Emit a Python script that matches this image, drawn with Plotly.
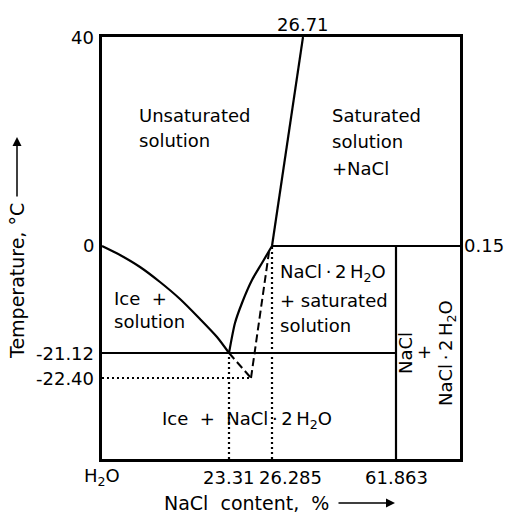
import plotly.graph_objects as go

# ---- schematic diagram coordinates (diagram is not to scale) ----
X_TICK_LABELS = ["H<sub>2</sub>O", "23.31", "26.285", "61.863"]
X_TICK_POS = [0, 127, 170, 294]
X_TICK_SHIFT = [0, 0, 18, 0]
X_MAX = 358

Y_TICK_LABELS = ["40", "0", "-21.12", "-22.40"]
Y_TICK_POS = [422, 213, 106, 81]
Y_MAX = 422

RIGHT_LABEL = "0.15"
RIGHT_LABEL_POS = 213
TOP_LABEL = "26.71"
TOP_LABEL_POS = 201

# liquidus of ice (0 °C -> eutectic)
ICE_X = [0, 18, 38, 58, 78, 98, 115, 127]
ICE_Y = [213, 204, 192, 177, 160, 140, 122, 106]
# solubility of NaCl·2H2O (eutectic -> peritectic)
HYD_X = [127, 133, 140, 150, 160, 170]
HYD_Y = [106, 136, 156, 179, 196, 213]
# solubility of NaCl (peritectic -> 26.71 at 40 °C)
NACL_X = [170, 201]
NACL_Y = [213, 422]
# metastable extensions (dashed)
META1_X = [127, 149]
META1_Y = [106, 81]
META2_X = [149, 167]
META2_Y = [81, 207]

FONT = "DejaVu Sans"
FS = 18
HYDRATE = "NaCl\u2009·\u20092\u2009H<sub>2</sub>O"

fig = go.Figure()

def line(x, y, dash="solid", width=2.2, shape="linear"):
    fig.add_trace(go.Scatter(x=x, y=y, mode="lines",
                             line=dict(color="black", width=width, dash=dash, shape=shape,
                                       smoothing=0.7),
                             hoverinfo="skip", showlegend=False, cliponaxis=False))

# solid phase boundaries
line(ICE_X, ICE_Y, shape="spline")
line(HYD_X, HYD_Y, shape="spline")
line(NACL_X, NACL_Y)
line([X_TICK_POS[2], X_MAX], [RIGHT_LABEL_POS, RIGHT_LABEL_POS])
line([0, X_TICK_POS[3]], [Y_TICK_POS[2], Y_TICK_POS[2]])
line([X_TICK_POS[3], X_TICK_POS[3]], [0, RIGHT_LABEL_POS])
# dashed metastable lines
line(META1_X, META1_Y, dash="8px,4px", width=2)
line(META2_X, META2_Y, dash="8px,4px", width=2)
# dotted guide lines
line([0, META1_X[1]], [Y_TICK_POS[3], Y_TICK_POS[3]], dash="2px,3px", width=2.2)
line([X_TICK_POS[1], X_TICK_POS[1]], [0, Y_TICK_POS[2]], dash="2px,3px", width=2.2)
line([X_TICK_POS[2], X_TICK_POS[2]], [0, Y_TICK_POS[1]], dash="2px,3px", width=2.2)

ann = []
def text(x, y, t, xanchor="center", yanchor="middle", angle=0, xshift=0, size=FS):
    # positions given in diagram units, placed in paper space so they are never hidden
    ann.append(dict(x=x / X_MAX, y=y / Y_MAX, xref="paper", yref="paper", text=t,
                    showarrow=False, xanchor=xanchor, yanchor=yanchor,
                    textangle=angle, xshift=xshift,
                    font=dict(family=FONT, size=size, color="black")))

def arrow(x0, y0, x1, y1):
    # one diagram unit == one pixel
    ann.append(dict(x=x1 / X_MAX, y=y1 / Y_MAX, xref="paper", yref="paper",
                    ax=x0 - x1, ay=y1 - y0, axref="pixel", ayref="pixel", text="",
                    showarrow=True, arrowhead=2, arrowsize=1.2, arrowwidth=1.5,
                    arrowcolor="black"))

# tick labels
for lab, pos, sh in zip(X_TICK_LABELS, X_TICK_POS, X_TICK_SHIFT):
    text(pos, -18, lab, xshift=sh)
for lab, pos in zip(Y_TICK_LABELS, Y_TICK_POS):
    text(-6, pos, lab, xanchor="right")
text(X_MAX + 2, RIGHT_LABEL_POS, RIGHT_LABEL, xanchor="left")
text(TOP_LABEL_POS, 434, TOP_LABEL)

# region labels
text(35, 344, "Unsaturated", xanchor="left")
text(35, 319, "solution", xanchor="left")
text(228, 344, "Saturated", xanchor="left")
text(228, 318, "solution", xanchor="left")
text(228, 291, "+NaCl", xanchor="left")
text(10, 161, "Ice  +", xanchor="left")
text(10, 137, "solution", xanchor="left")
text(176, 186, HYDRATE, xanchor="left")
text(176, 159, "+ saturated", xanchor="left")
text(176, 134, "solution", xanchor="left")
text(145, 39, "Ice  +  " + HYDRATE)
text(303, 106, "NaCl", angle=-90)
text(321, 106, "+", angle=-90)
text(345, 106, HYDRATE, angle=-90)

# axis titles
text(-85, 178, "Temperature, °C", angle=-90, size=19)
text(144, -44, "NaCl  content,  %", size=19)
arrow(235, -44, 293, -44)
arrow(-85, 261, -85, 322)

fig.update_layout(
    width=505, height=515,
    margin=dict(l=102, r=45, t=37, b=56),
    paper_bgcolor="white", plot_bgcolor="white",
    annotations=ann,
    xaxis=dict(range=[0, X_MAX], showgrid=False, zeroline=False, showticklabels=False,
               ticks="", showline=True, mirror=True, linecolor="black", linewidth=2.5),
    yaxis=dict(range=[0, Y_MAX], showgrid=False, zeroline=False, showticklabels=False,
               ticks="", showline=True, mirror=True, linecolor="black", linewidth=2.5),
)

fig.write_html("out.html")
